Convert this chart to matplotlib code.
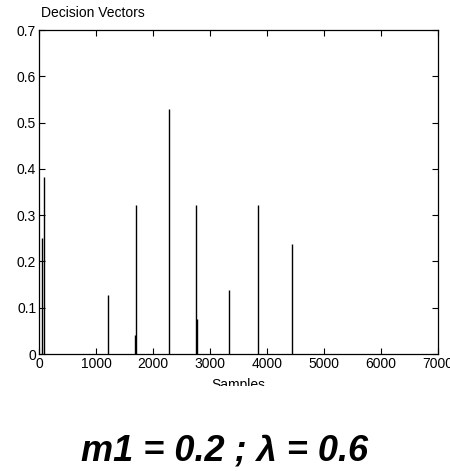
import matplotlib
matplotlib.use("Agg")
import matplotlib.pyplot as plt
from matplotlib.patches import Rectangle

# Data
sample_positions = [58, 82, 1205, 1684, 1696, 2275, 2760, 2777, 3339, 3847, 4433]
decision_values = [0.25, 0.383, 0.127, 0.041, 0.321, 0.53, 0.321, 0.076, 0.138, 0.321, 0.238]
x_ticks = [0, 1000, 2000, 3000, 4000, 5000, 6000, 7000]
y_ticks = [0, 0.1, 0.2, 0.3, 0.4, 0.5, 0.6, 0.7]
y_tick_labels = ["0", "0.1", "0.2", "0.3", "0.4", "0.5", "0.6", "0.7"]

plt.rcParams['font.family'] = ['Liberation Sans', 'DejaVu Sans']

W, H = 450, 471
fig = plt.figure(figsize=(W / 100, H / 100), dpi=100)
ax = fig.add_axes([39 / W, 1 - 354 / H, (438 - 39) / W, (354 - 30) / H])

ax.vlines(sample_positions, 0, decision_values, colors='black', linewidth=1.0)

ax.set_xlim(0, 7000)
ax.set_ylim(0, 0.7)
ax.set_xticks(x_ticks)
ax.set_xticklabels([str(t) for t in x_ticks])
ax.set_yticks(y_ticks)
ax.set_yticklabels(y_tick_labels)
ax.tick_params(direction='in', top=True, right=True, length=4, width=0.8,
               labelsize=10, pad=2, colors='black')
for s in ax.spines.values():
    s.set_linewidth(0.9)
    s.set_color('black')

fig.text(41 / W, 1 - 13 / H, "Decision Vectors", fontsize=10, ha='left', va='center')
ax.set_xlabel("Samples", fontsize=10, va='top')
ax.xaxis.set_label_coords(0.5, -24 / 324)

# crop effect: white band below the x label
fig.patches.append(Rectangle((0, 0), 1, 1 - 386 / H, transform=fig.transFigure,
                             facecolor='white', edgecolor='none', zorder=10))

fig.text(225 / W, 1 - 451 / H, "m1 = 0.2 ; \u03bb = 0.6", fontsize=26,
         fontweight='bold', fontstyle='italic', ha='center', va='center', zorder=20)

fig.savefig("out.png", dpi=100)
